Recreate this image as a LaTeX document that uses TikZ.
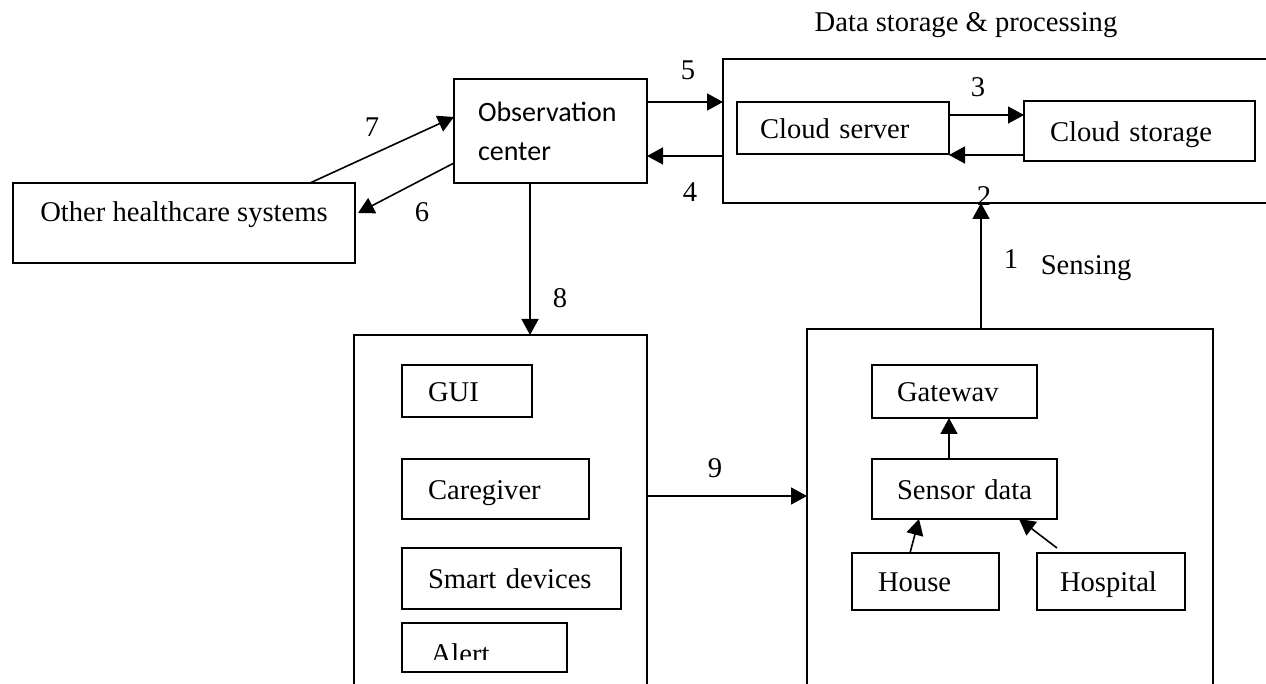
\documentclass[tikz,border=0pt]{standalone}
\usepackage{fontspec}
\setmainfont{Liberation Serif}
\newfontfamily\calibri{Carlito}
\usetikzlibrary{arrows.meta}
\newcommand\tnr{\fontsize{14.3pt}{17pt}\selectfont}
\begin{document}
\begin{tikzpicture}[x=0.5pt,y=-0.5pt,
  line width=0.8pt,
  every node/.style={font=\tnr, inner sep=0pt},
  box/.style={draw, line width=0.8pt, anchor=north west, outer sep=0pt},
  lbox/.style n args={3}{box, minimum width=#1, text width=#1, minimum height=#2,
     align=left, execute at begin node={\hspace*{#3}}},
  oneline/.style={text height=12.5pt, text depth=2pt},
  arr/.style={-{Triangle[length=8pt,width=8.5pt]}, line width=0.8pt}]
\useasboundingbox (0,0) rectangle (1266,684);

% ---------- boxes ----------
\node[lbox={96.5pt}{52pt}{12pt}, font=\calibri\fontsize{14pt}{19.5pt}\selectfont]
   (obs) at (454,79) {Observation\\\hspace*{12pt}center};
\node[box, minimum width=171pt, minimum height=40pt, text height=10pt, text depth=11pt]
   (oth) at (13,183) {Other healthcare systems};

\node[box, minimum width=276pt, minimum height=72pt] (st) at (723,59) {};
\node[lbox={106pt}{26pt}{11.5pt}, oneline] (cs) at (737,102) {Cloud server};
\node[lbox={115.5pt}{30pt}{13pt}, oneline] (cst) at (1024,101) {Cloud storage};

\node[box, minimum width=146.5pt, minimum height=185pt] (lb) at (354,335) {};
\node[lbox={65pt}{26pt}{13pt}, oneline] (gui) at (402,365) {GUI};
\node[lbox={93.5pt}{30pt}{13pt}, oneline] (cg) at (402,459) {Caregiver};
\node[lbox={109.5pt}{30.5pt}{13pt}, oneline] (sm) at (402,548) {Smart devices};
\node[box, minimum width=82.5pt, minimum height=24.5pt] (al) at (402,623) {};
\begin{scope}
  \clip (al.north west) rectangle ([yshift=6pt]al.south east);
  \node[anchor=base west] (altext) at ([xshift=14pt,yshift=4pt]al.south west) {Alert};
\end{scope}

\node[box, minimum width=203pt, minimum height=185pt] (rb) at (807,329) {};
\node[lbox={82.5pt}{26.5pt}{12.5pt}, oneline] (gw) at (872,365) {Gatewav};
\node[lbox={92.5pt}{30pt}{12.5pt}, oneline] (sd) at (872,459) {Sensor data};
\node[lbox={73.5pt}{28.5pt}{13pt}, oneline] (ho) at (852,553) {House};
\node[lbox={74pt}{28.5pt}{11.5pt}, oneline] (hs) at (1037,553) {Hospital};
\coordinate (hsfrom) at (1057,548);

% ---------- connectors ----------
\draw[arr] (obs.east |- 0,102) -- (st.west |- 0,102);
\draw[arr] (st.west |- 0,156) -- (obs.east |- 0,156);
\draw[arr] (cs.east |- 0,115) -- (cst.west |- 0,115);
\draw[arr] (cst.west |- 0,155) -- (cs.east |- 0,155);
\draw[arr] (oth.north -| 310,0) -- (obs.west |- 0,117);
\draw[arr] (obs.west |- 0,163) -- (358,213);
\draw[arr] (obs.south -| 530,0) -- (lb.north -| 530,0);
\draw[arr] (lb.east |- 0,496) -- (rb.west |- 0,496);
\draw[arr] (rb.north -| 981,0) -- (st.south -| 981,0);
\draw[arr] (sd.north -| 949,0) -- (gw.south -| 949,0);
\draw[arr] (ho.north -| 910,0) -- (sd.south -| 919,0);
\draw[arr] (hsfrom) -- (sd.south -| 1019,0);

% ---------- labels ----------
\node (title) at (966,25) {Data storage \& processing};
\node (l5) at (688,70) {5};
\node (l4) at (690,192) {4};
\node (l3) at (978,87) {3};
\node (l2) at (984,196) {2};
\node (l7) at (372,127) {7};
\node (l6) at (422,212) {6};
\node (l8) at (560,298) {8};
\node (l9) at (715,468) {9};
\node (l1) at (1011,259) {1};
\node[anchor=west] (sens) at (1040,268) {Sensing};
\end{tikzpicture}
\end{document}
